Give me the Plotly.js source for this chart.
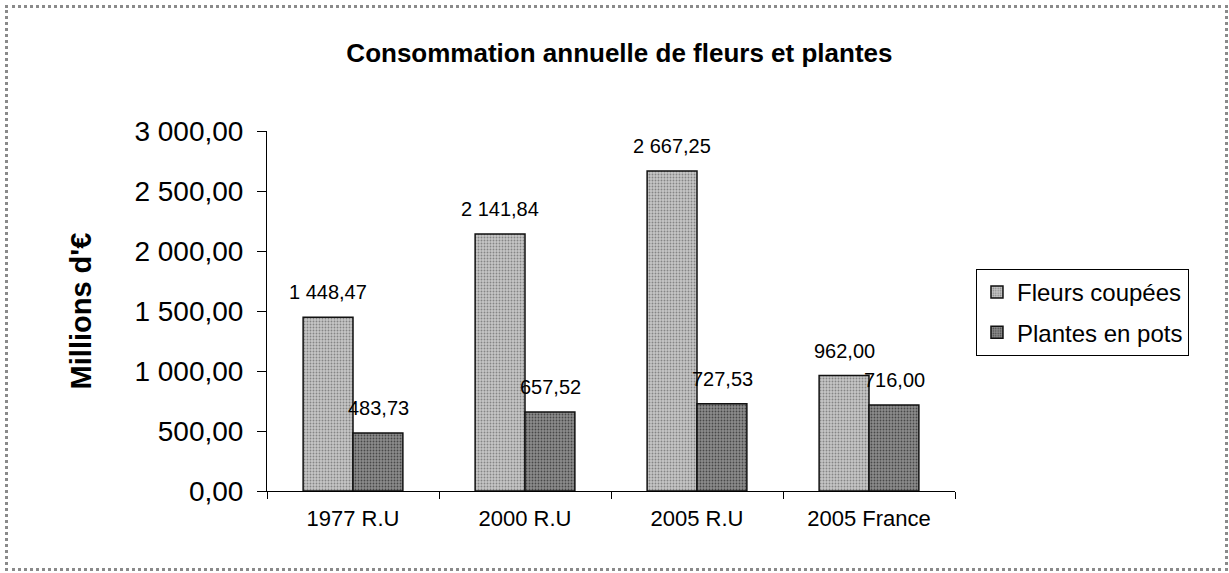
<!DOCTYPE html>
<html>
<head>
<meta charset="utf-8">
<script src="https://cdn.plot.ly/plotly-3.0.1.min.js"></script>
<style>
  html, body { margin: 0; padding: 0; background: #fff; }
  #chart { position: absolute; left: 0; top: 0; width: 1229px; height: 573px; }
  #frame { position: absolute; left: 5px; top: 5px; width: 1223px; height: 566px;
           box-sizing: border-box; border: 3px dotted #8a8a8a; pointer-events: none; }
</style>
</head>
<body>
<div id="chart"></div>
<div id="frame"></div>
<script>
// ---- data ----
const categories = ["1977 R.U", "2000 R.U", "2005 R.U", "2005 France"];
const fleursCoupees = [1448.47, 2141.84, 2667.25, 962.00];
const plantesEnPots = [483.73, 657.52, 727.53, 716.00];
const seriesNames = ["Fleurs coupées", "Plantes en pots"];
const chartTitle = "Consommation annuelle de fleurs et plantes";
const yTitle = "Millions d'€";

// ---- style ----
const FONT = "Arial, 'Liberation Sans', sans-serif";
const series = [fleursCoupees, plantesEnPots];
const barStyles = [
  { bg: "#c6c6c6", fg: "#858585" },
  { bg: "#8c8c8c", fg: "#484848" }
];

const traces = series.map((vals, i) => ({
  type: "bar",
  name: seriesNames[i],
  x: categories,
  y: vals,
  legendgroup: "g" + i,
  marker: {
    color: barStyles[i].bg,
    line: { color: "#111", width: 1.5 },
    pattern: { shape: ".", bgcolor: barStyles[i].bg, fgcolor: barStyles[i].fg, size: 3, solidity: 0.3 }
  },
  hoverinfo: "x+y"
}));

function fmt(v) {
  const parts = v.toFixed(2).split(".");
  parts[0] = parts[0].replace(/\B(?=(\d{3})+(?!\d))/g, " ");
  return parts.join(",");
}

const shifts = [-25, 25];
const annotations = [];
series.forEach((vals, i) => {
  vals.forEach((v, j) => {
    annotations.push({
      x: categories[j], y: v, xref: "x", yref: "y",
      text: fmt(v), showarrow: false,
      xshift: shifts[i], yshift: 25, yanchor: "middle", xanchor: "center",
      font: { family: FONT, size: 20, color: "#000" }
    });
  });
});

const layout = {
  width: 1229, height: 573,
  margin: { l: 267, r: 274, t: 131, b: 82 },
  paper_bgcolor: "#fff", plot_bgcolor: "#fff",
  separators: ", ",
  bargap: 0.42, bargroupgap: 0,
  barmode: "group",
  title: {
    text: "<b>" + chartTitle + "</b>",
    font: { family: FONT, size: 26, color: "#000" },
    xref: "container", x: 0.504, xanchor: "center",
    yref: "container", y: 0.908, yanchor: "middle"
  },
  xaxis: {
    type: "category",
    showline: true, linecolor: "#000", linewidth: 1,
    ticks: "outside", tickson: "boundaries", ticklen: 7, tickcolor: "#000",
    tickfont: { family: FONT, size: 22, color: "#000" },
    ticklabelstandoff: 8,
    showgrid: false, zeroline: false
  },
  yaxis: {
    range: [0, 3000], dtick: 500, tick0: 0,
    tickformat: ",.2f",
    showline: true, linecolor: "#000", linewidth: 1,
    ticks: "outside", ticklen: 9, tickcolor: "#000",
    tickfont: { family: FONT, size: 28, color: "#000" },
    ticklabelstandoff: 8,
    showgrid: false, zeroline: false,
    title: { text: "<b>" + yTitle + "</b>", font: { family: FONT, size: 29, color: "#000" }, standoff: 34 }
  },
  legend: {
    x: 1.0305, xanchor: "left", y: 0.617, yanchor: "top",
    bgcolor: "#fff", bordercolor: "#000", borderwidth: 1,
    font: { family: FONT, size: 24, color: "#000" },
    traceorder: "grouped", tracegroupgap: 6, itemwidth: 30
  },
  annotations: annotations,
  showlegend: true
};

Plotly.newPlot("chart", traces, layout, { displayModeBar: false, staticPlot: true });
</script>
</body>
</html>
